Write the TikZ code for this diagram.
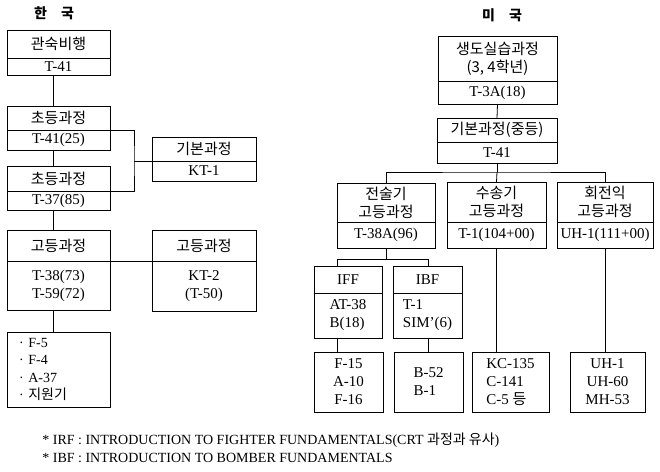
\documentclass[tikz,border=0pt]{standalone}
\usepackage{fontspec}
\setmainfont{Liberation Serif}
\newfontfamily\kr{Noto Sans CJK KR}
\usetikzlibrary{positioning}

\tikzset{
  cell/.style={draw,inner sep=0pt,outer sep=0pt,align=center,
    font=\fontsize{15}{18}\selectfont},
  title/.style={font=\kr\bfseries\fontsize{14}{14}\selectfont},
  note/.style={anchor=west,inner sep=0pt,font=\fontsize{14}{16}\selectfont}
}

\begin{document}
\begin{tikzpicture}[x=1pt,y=-1pt,line width=0.8pt]
  \useasboundingbox (0,0) rectangle (660,471);

  % korea
  \node[title] (krtitle) at (54,13) {한\hspace{14pt}국};
  \node[cell,anchor=north west,minimum width=103pt,minimum height=28pt] (k1t) at (7,30) {\kr 관숙비행};
  \node[cell,below=0pt of k1t,minimum width=103pt,minimum height=17pt] (k1b) {T-41};
  \node[cell,anchor=north west,minimum width=103pt,minimum height=24pt] (k2t) at (7,106) {\kr 초등과정};
  \node[cell,below=0pt of k2t,minimum width=103pt,minimum height=20pt] (k2b) {T-41(25)};
  \node[cell,anchor=north west,minimum width=103pt,minimum height=25pt] (k3t) at (7,166) {\kr 초등과정};
  \node[cell,below=0pt of k3t,minimum width=103pt,minimum height=19pt] (k3b) {T-37(85)};
  \node[cell,anchor=north west,minimum width=104pt,minimum height=24pt] (k4t) at (152,137) {\kr 기본과정};
  \node[cell,below=0pt of k4t,minimum width=104pt,minimum height=20pt] (k4b) {KT-1};
  \node[cell,anchor=north west,minimum width=103pt,minimum height=31pt] (k5t) at (7,230) {\kr 고등과정};
  \node[cell,below=0pt of k5t,minimum width=103pt,minimum height=49pt] (k5b) {T-38(73)\\T-59(72)};
  \node[cell,anchor=north west,minimum width=104pt,minimum height=31pt] (k6t) at (152,230) {\kr 고등과정};
  \node[cell,below=0pt of k6t,minimum width=104pt,minimum height=50pt] (k6b) {KT-2\\(T-50)};
  \node[cell,anchor=north west,minimum height=75pt,text width=79pt,inner xsep=12pt,align=left,
    font=\fontsize{14}{17.5}\selectfont] (k7) at (7,332)
    {· F-5\\· F-4\\· A-37\\· {\kr 지원기}};

  \coordinate (kx) at (53,0);
  \coordinate (kj) at (134,161);
  \draw (kx |- k1b.south) -- (kx |- k2t.north);
  \draw (kx |- k2b.south) -- (kx |- k3t.north);
  \draw (kx |- k3b.south) -- (kx |- k5t.north);
  \draw (kx |- k5b.south) -- (kx |- k7.north);
  \draw (k2t.south east) -| (kj) |- (k3t.south east);
  \draw (kj) -- (k4t.south west);
  \draw (k5t.south east) -- (k6t.south west);

  % usa
  \node[title] (ustitle) at (502,15) {미\hspace{14pt}국};
  \node[cell,anchor=north west,minimum width=119pt,minimum height=45pt] (u1t) at (438,36) {\kr 생도실습과정\\\kr (3, 4학년)};
  \node[cell,below=0pt of u1t,minimum width=119pt,minimum height=23pt] (u1b) {T-3A(18)};
  \node[cell,anchor=north west,minimum width=120pt,minimum height=24pt] (u2t) at (437,118) {\kr 기본과정(중등)};
  \node[cell,below=0pt of u2t,minimum width=120pt,minimum height=21pt] (u2b) {T-41};
  \node[cell,anchor=north west,minimum width=98pt,minimum height=39pt] (u3t) at (337,183) {\kr 전술기\\\kr 고등과정};
  \node[cell,below=0pt of u3t,minimum width=98pt,minimum height=26pt] (u3b) {T-38A(96)};
  \node[cell,anchor=north west,minimum width=99pt,minimum height=40pt] (u4t) at (447,182) {\kr 수송기\\\kr 고등과정};
  \node[cell,below=0pt of u4t,minimum width=99pt,minimum height=26pt] (u4b) {T-1(104+00)};
  \node[cell,anchor=north west,minimum width=96pt,minimum height=40pt] (u5t) at (557,182) {\kr 회전익\\\kr 고등과정};
  \node[cell,below=0pt of u5t,minimum width=96pt,minimum height=26pt] (u5b) {UH-1(111+00)};
  \node[cell,anchor=north west,minimum width=68pt,minimum height=27pt] (u6t) at (314,266) {IFF};
  \node[cell,below=0pt of u6t,minimum width=68pt,minimum height=45pt,align=left] (u6b) {AT-38\\B(18)};
  \node[cell,anchor=north west,minimum width=69pt,minimum height=27pt] (u7t) at (393,266) {IBF};
  \node[cell,below=0pt of u7t,minimum width=69pt,minimum height=45pt,align=left] (u7b) {T-1\\SIM’(6)};
  \node[cell,anchor=north west,minimum width=69pt,minimum height=60pt] (u8) at (314,352) {F-15\\A-10\\F-16};
  \node[cell,anchor=north west,minimum width=69pt,minimum height=60pt,align=left] (u9) at (394,352) {B-52\\B-1};
  \node[cell,anchor=north west,minimum width=77pt,minimum height=60pt,align=left] (u10) at (472,352) {KC-135\\C-141\\C-5 {\kr 등}};
  \node[cell,anchor=north west,minimum width=75pt,minimum height=60pt] (u11) at (570,352) {UH-1\\UH-60\\MH-53};

  \coordinate (fx) at (337,0);
  \coordinate (bx) at (428,0);
  \draw (u1b.south) -- (u2t.north);
  \draw (u2b.south) -- ++(0,9) coordinate (uj);
  \draw (u3t.north) |- (uj) -| (u5t.north);
  \draw (uj) -- (u4t.north);
  \draw (u3b.south) -- ++(0,11) coordinate (tj);
  \draw (fx |- u6t.north) -- (fx |- tj) -- (bx |- tj) -- (bx |- u7t.north);
  \draw (fx |- u6b.south) -- (fx |- u8.north);
  \draw (bx |- u7b.south) -- (bx |- u9.north);
  \draw (u4b.south) -- (u4b.south |- u10.north);
  \draw (u5b.south) -- (u5b.south |- u11.north);

  % notes
  \node[note] (note1) at (42,440) {* IRF : INTRODUCTION TO FIGHTER FUNDAMENTALS(CRT {\kr 과정과 유사})};
  \node[note] (note2) at (42,458) {* IBF : INTRODUCTION TO BOMBER FUNDAMENTALS};
\end{tikzpicture}
\end{document}
